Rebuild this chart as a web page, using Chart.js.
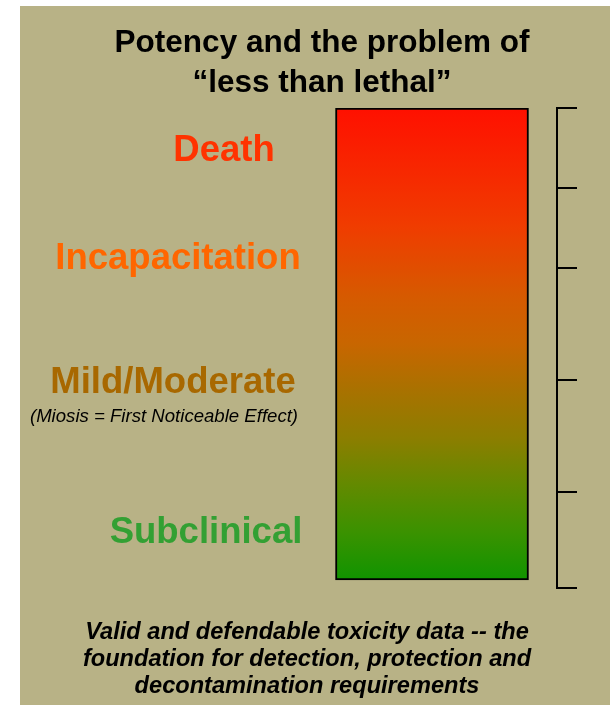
<!DOCTYPE html>
<html>
<head>
<meta charset="utf-8">
<script src="https://cdn.jsdelivr.net/npm/chart.js@4/dist/chart.umd.min.js"></script>
<style>
  body { margin: 0; background: #fff; }
  canvas { display: block; }
</style>
</head>
<body>
<canvas id="potency" width="610" height="709"></canvas>
<script>
// data
const levels = ["Death", "Incapacitation", "Mild/Moderate", "Subclinical"];
const levelValues = [5.34, 3.99, 2.44, 0.56];
const bracketTicks = [0, 1.2, 2.6, 4, 5, 6];
const barRange = [0.1, 6];
const gradientStops = [0, 0.25, 0.4, 0.5, 0.6, 0.7, 0.8, 0.9, 1];
const gradientColors = ["#ff1000", "#f03c00", "#d65a00", "#c86600", "#a87200", "#8c7e00", "#628a00", "#3a9200", "#109400"];
const titleLines = ["Potency and the problem of", "\u201cless than lethal\u201d"];
const noteLines = [
  "Valid and defendable toxicity data -- the",
  "foundation for detection, protection and",
  "decontamination requirements"
];
const miosisNote = "(Miosis = First Noticeable Effect)";

// styling
const FONT = "'Liberation Sans', Arial, sans-serif";
const KHAKI = "#b8b286";
const levelColors = ["#ff3300", "#ff6600", "#a86800", "#33a033"];
const levelCenters = [224, 178, 173, 206];

const backdrop = {
  id: "backdrop",
  beforeDraw(chart) {
    const c = chart.ctx;
    c.save();
    c.fillStyle = "#fff";
    c.fillRect(0, 0, chart.width, chart.height);
    c.fillStyle = KHAKI;
    c.fillRect(20, 6, chart.width - 20, chart.height - 10);
    c.restore();
  }
};

const sideText = {
  id: "sideText",
  afterDraw(chart) {
    const c = chart.ctx;
    const y = chart.scales.y;
    c.save();
    c.textAlign = "center";
    c.textBaseline = "alphabetic";
    c.font = "bold 36.5px " + FONT;
    levels.forEach((name, i) => {
      c.fillStyle = levelColors[i];
      c.fillText(name, levelCenters[i], y.getPixelForValue(levelValues[i]));
    });
    c.fillStyle = "#000";
    c.font = "italic 18.6px " + FONT;
    c.fillText(miosisNote, 164, y.getPixelForValue(levelValues[2]) + 29);

    c.font = "italic bold 23.6px " + FONT;
    c.textBaseline = "middle";
    noteLines.forEach((line, i) => {
      c.fillText(line, 307, 632 + i * 27);
    });
    c.restore();
  }
};

const ctx = document.getElementById("potency").getContext("2d");
new Chart(ctx, {
  type: "bar",
  data: {
    labels: ["potency"],
    datasets: [{
      data: [barRange],
      barThickness: 193,
      borderColor: "#000",
      borderWidth: 2,
      borderSkipped: false,
      backgroundColor: (context) => {
        const chart = context.chart;
        if (!chart.chartArea) return gradientColors[0];
        const y = chart.scales.y;
        const g = chart.ctx.createLinearGradient(0, y.getPixelForValue(barRange[1]), 0, y.getPixelForValue(barRange[0]));
        gradientStops.forEach((s, i) => g.addColorStop(s, gradientColors[i]));
        return g;
      }
    }]
  },
  options: {
    responsive: false,
    animation: false,
    layout: { padding: { left: 34, right: 0, top: 0, bottom: 121 } },
    plugins: {
      legend: { display: false },
      tooltip: { enabled: false },
      title: {
        display: true,
        text: titleLines,
        color: "#000",
        font: { family: FONT, size: 31.5, weight: "bold", lineHeight: 40 / 31.5 },
        padding: { top: 23, bottom: 5 }
      }
    },
    scales: {
      x: { display: false },
      yl: {
        position: "left",
        min: 0,
        max: 6,
        ticks: { display: false },
        grid: { display: false },
        border: { display: false },
        afterFit: (scale) => { scale.width = 273; }
      },
      y: {
        position: "right",
        min: 0,
        max: 6,
        afterBuildTicks: (scale) => {
          scale.ticks = bracketTicks.map((v) => ({ value: v }));
        },
        afterFit: (scale) => { scale.width = 53; },
        ticks: { display: false },
        border: { display: true, color: "#000", width: 2 },
        grid: {
          drawOnChartArea: false,
          drawTicks: true,
          tickLength: 20,
          color: "#000",
          lineWidth: 2
        }
      }
    }
  },
  plugins: [backdrop, sideText]
});
</script>
</body>
</html>
